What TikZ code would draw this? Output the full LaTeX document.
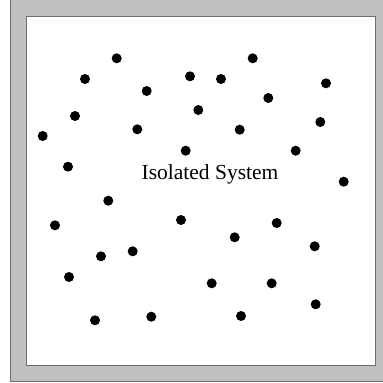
\documentclass[tikz,border=0pt]{standalone}
\usepackage{fontspec}
\setmainfont{Liberation Serif}
\definecolor{wallgray}{RGB}{192,192,192}
\definecolor{walledge}{RGB}{110,110,110}
\begin{document}
\begin{tikzpicture}[x=1pt,y=-1pt]
\tikzset{particle/.style={circle,fill=black,inner sep=0pt,minimum size=10pt}}
\useasboundingbox (0,0) rectangle (383,383);
\clip (0,0) rectangle (383,383);
% wall of the box
\draw [walledge,fill=wallgray,line width=0.8pt] (10,-2) rectangle (392,381);
\draw [walledge,fill=white,line width=0.8pt] (26,16) rectangle (375,365);
\node (label) at (210,174) {\fontsize{21.5}{25}\selectfont Isolated System};
% particles
\foreach \px/\py [count=\i] in {116.7/58.3, 85/79, 146.7/91, 190/76.3, 75/116,
  42.7/136, 137.3/129.3, 185.7/150.7, 68/166.7, 252.7/58.3, 221/79, 326/83.3,
  268.3/98, 198.3/110, 320.3/122, 239.7/129.7, 295.7/150.7, 343.7/181.7,
  108.3/200.7, 55/225.3, 181/220, 101/256.3, 132.7/251.3, 69/277, 95/320.3,
  151.3/316.7, 276.7/223, 234.7/237.3, 314.7/246.3, 211.7/283.3, 271.7/283.3,
  315.7/304.3, 241/316}
  \node [particle] (p\i) at (\px,\py) {};
\end{tikzpicture}
\end{document}
